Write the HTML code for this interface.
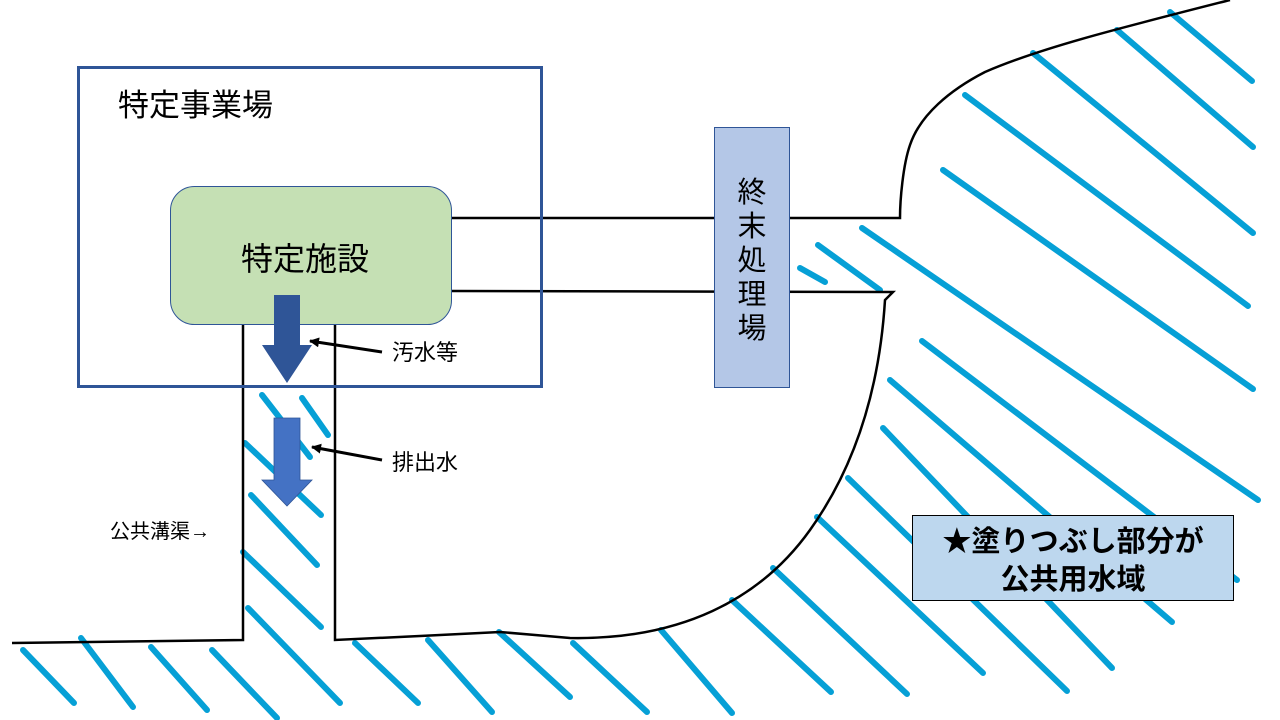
<!DOCTYPE html>
<html><head><meta charset="utf-8"><style>
html,body{margin:0;padding:0;background:#fff;width:1280px;height:720px;overflow:hidden}
svg{display:block}
text{font-family:"Liberation Sans","Noto Sans CJK JP",sans-serif}
</style></head><body>
<svg width="1280" height="720" viewBox="0 0 1280 720" xmlns="http://www.w3.org/2000/svg">
<defs>
<marker id="ah" markerWidth="10" markerHeight="10" refX="9" refY="5" orient="auto" markerUnits="userSpaceOnUse">
<path d="M0,0 L10,5 L0,10 z" fill="#000"/></marker>
</defs>
<g stroke="#06a0d6" stroke-width="6" stroke-linecap="round" fill="none">
<path d="M1170,12 L1252,81"/>
<path d="M1117,30 L1253,147"/>
<path d="M1033,53 L1253,233"/>
<path d="M965,95 L1248,306"/>
<path d="M943,170 L1253,389"/>
<path d="M862,228 L1258,500"/>
<path d="M818,245 L880,290"/>
<path d="M800,268 L825,282"/>
<path d="M922,341 L1237,580"/>
<path d="M890,380 L1172,622"/>
<path d="M883,428 L1112,668"/>
<path d="M848,478 L1067,691"/>
<path d="M817,517 L983,673"/>
<path d="M773,568 L907,694"/>
<path d="M732,600 L831,692"/>
<path d="M661,630 L732,713"/>
<path d="M573,643 L647,712"/>
<path d="M499,632 L570,697"/>
<path d="M428,640 L492,712"/>
<path d="M355,643 L418,703"/>
<path d="M212,650 L277,718"/>
<path d="M151,647 L207,710"/>
<path d="M81,638 L133,707"/>
<path d="M23,650 L74,703"/>
<path d="M262,395 L310,457"/>
<path d="M302,398 L328,435"/>
<path d="M245,443 L321,515"/>
<path d="M251,495 L317,565"/>
<path d="M243,552 L321,627"/>
<path d="M248,608 L340,703"/>
</g>
<g stroke="#000" stroke-width="2.5" fill="none">
<path d="M12,643 L243,640 L243,325"/>
<path d="M335,325 L335,640 L420,636 L500,632 L570,638 C680,640 760,600 810,530 C860,460 880,380 885,300 L893,292 L452,291"/>
<path d="M452,218 L900,218 C900,200 903,165 910,145 C920,115 950,90 985,72 C1040,48 1120,28 1230,0"/>
</g>
<rect x="78.5" y="67.5" width="463" height="319" fill="none" stroke="#2f5597" stroke-width="3"/>
<text x="118" y="116" font-size="31" fill="#000">特定事業場</text>
<rect x="170.5" y="186.5" width="281" height="138" rx="24" fill="#c5e0b4" stroke="#2f5597" stroke-width="1"/>
<text x="305" y="270" font-size="32" text-anchor="middle" fill="#000">特定施設</text>
<path d="M274,295 H300 V345 H312 L287,383 L262,345 H274 Z" fill="#2f5597"/>
<path d="M274,418 H300 V480 H312 L287,506 L262,480 H274 Z" fill="#4472c4" stroke="#2f5597" stroke-width="0.8"/>
<line x1="382" y1="352" x2="310" y2="341" stroke="#000" stroke-width="3" marker-end="url(#ah)"/>
<line x1="382" y1="460" x2="312" y2="447" stroke="#000" stroke-width="3" marker-end="url(#ah)"/>
<text x="392" y="360" font-size="22" fill="#000">汚水等</text>
<text x="392" y="470" font-size="22" fill="#000">排出水</text>
<text x="110" y="538" font-size="20" fill="#000">公共溝渠→</text>
<rect x="714.5" y="127.5" width="75" height="260" fill="#b4c7e7" stroke="#2f5597" stroke-width="1"/>
<g font-size="29" text-anchor="middle" fill="#000">
<text x="752" y="202">終</text><text x="752" y="236">末</text><text x="752" y="270">処</text><text x="752" y="304">理</text><text x="752" y="338">場</text>
</g>
<rect x="912.5" y="515.5" width="321" height="85" fill="#bdd7ee" stroke="#000" stroke-width="1"/>
<text x="1073" y="551" font-size="29" font-weight="bold" text-anchor="middle" fill="#000">★塗りつぶし部分が</text>
<text x="1073" y="589" font-size="29" font-weight="bold" text-anchor="middle" fill="#000">公共用水域</text>
</svg>
</body></html>
